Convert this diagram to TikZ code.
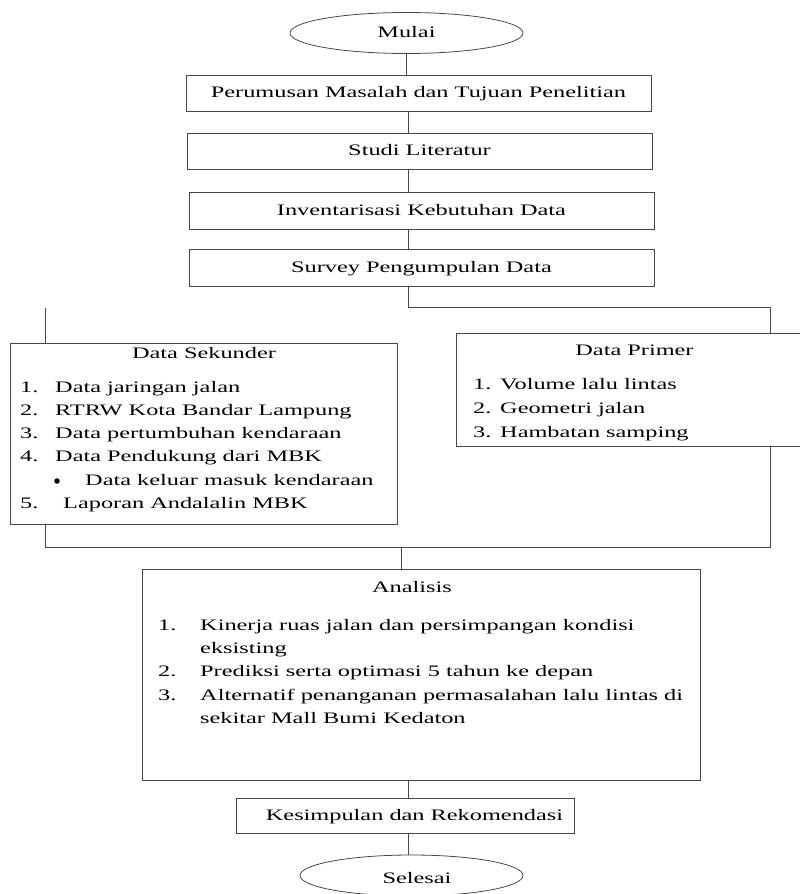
\documentclass[tikz,border=0pt]{standalone}
\usepackage{fontspec}
\setmainfont{Liberation Serif}[FakeStretch=1.52]
\usetikzlibrary{shapes.geometric}
\begin{document}
\begin{tikzpicture}[x=1pt,y=-1pt,
  line/.style={draw=black!72, line width=0.8pt},
  box/.style={line, rectangle, inner sep=0pt, anchor=center},
  lbl/.style={font=\fontsize{16}{19}\selectfont, inner sep=0pt, text height=12pt, text depth=2.6pt},
  txt/.style={font=\fontsize{16}{19}\selectfont, inner sep=0pt, anchor=base west},
  ctxt/.style={font=\fontsize{16}{19}\selectfont, inner sep=0pt, anchor=base},
  ]
\useasboundingbox (0,0) rectangle (800,894);
\clip (0,0) rectangle (800,894);

% top chain
\node[line, ellipse, inner sep=0pt, minimum width=233pt, minimum height=41pt, lbl] (mulai) at (406.5,33) {Mulai};
\node[box, minimum width=465pt, minimum height=36pt, lbl] (p1) at (418.5,93) {Perumusan Masalah dan Tujuan Penelitian};
\node[box, minimum width=465pt, minimum height=36pt, lbl] (p2) at (419.5,151) {Studi Literatur};
\node[box, minimum width=465pt, minimum height=37pt, lbl] (p3) at (421.5,210.5) {Inventarisasi Kebutuhan Data};
\node[box, minimum width=465pt, minimum height=37pt, lbl] (p4) at (421.5,267.5) {Survey Pengumpulan Data};

% data boxes
\node[box, minimum width=387pt, minimum height=181pt] (sek) at (203.5,433.5) {};
\node[box, minimum width=346pt, minimum height=113pt] (pri) at (629,389.5) {};
\node[box, minimum width=558pt, minimum height=211pt] (ana) at (421,674.5) {};
\node[box, minimum width=338pt, minimum height=35pt] (kes) at (405,815.5) {};
\node[line, ellipse, inner sep=0pt, minimum width=223pt, minimum height=41pt] (sel) at (411.5,875.5) {};

% coordinates for connectors
\coordinate (spine) at (408,0);
\coordinate (split) at (408,307);
\coordinate (rtop) at (770,307);
\coordinate (ltop) at (45,308);
\coordinate (jl) at (45,547);
\coordinate (jr) at (770,547);
\coordinate (jm) at (401,547);

% connectors
\draw[line] (mulai.south) -- (mulai.south |- p1.north);
\draw[line] (p1.south -| spine) -- (p2.north -| spine);
\draw[line] (p2.south -| spine) -- (p3.north -| spine);
\draw[line] (p3.south -| spine) -- (p4.north -| spine);
\draw[line] (p4.south -| spine) -- (split) -- (rtop) -- (pri.north -| rtop);
\draw[line] (ltop) -- (sek.north -| ltop);
\draw[line] (sek.south -| jl) -- (jl) -- (jr) -- (pri.south -| jr);
\draw[line] (jm) -- (ana.north -| jm);
\draw[line] (ana.south -| spine) -- (kes.north -| spine);
\draw[line] (kes.south -| spine) -- (sel.north -| spine);

% Data Sekunder text
\node[ctxt] (sekT) at (204,358) {Data Sekunder};
\node[txt] (s1n) at (20,392) {1.};
\node[txt] (s1) at (55,392) {Data jaringan jalan};
\node[txt] (s2n) at (20,415.3) {2.};
\node[txt] (s2) at (55,415.3) {RTRW Kota Bandar Lampung};
\node[txt] (s3n) at (20,438.6) {3.};
\node[txt] (s3) at (55,438.6) {Data pertumbuhan kendaraan};
\node[txt] (s4n) at (20,461.9) {4.};
\node[txt] (s4) at (55,461.9) {Data Pendukung dari MBK};
\node[circle, fill=black, inner sep=0pt, minimum size=5.5pt] (sbn) at (57,481) {};
\node[txt] (sb) at (85,485.2) {Data keluar masuk kendaraan};
\node[txt] (s5n) at (20,508.5) {5.};
\node[txt] (s5) at (63,508.5) {Laporan Andalalin MBK};

% Data Primer text
\node[ctxt] (priT) at (634.5,355) {Data Primer};
\node[txt] (q1n) at (473,389) {1.};
\node[txt] (q1) at (500,389) {Volume lalu lintas};
\node[txt] (q2n) at (473,413) {2.};
\node[txt] (q2) at (500,413) {Geometri jalan};
\node[txt] (q3n) at (473,437) {3.};
\node[txt] (q3) at (500,437) {Hambatan samping};

% Analisis text
\node[ctxt] (anaT) at (412,592) {Analisis};
\node[txt] (a1n) at (158,630) {1.};
\node[txt] (a1) at (200,630) {Kinerja ruas jalan dan persimpangan kondisi};
\node[txt] (a1b) at (200,653) {eksisting};
\node[txt] (a2n) at (158,676) {2.};
\node[txt] (a2) at (200,676) {Prediksi serta optimasi 5 tahun ke depan};
\node[txt] (a3n) at (158,700) {3.};
\node[txt] (a3) at (200,700) {Alternatif penanganan permasalahan lalu lintas di};
\node[txt] (a3b) at (200,723) {sekitar Mall Bumi Kedaton};

% bottom texts
\node[ctxt] (kesT) at (414.5,820.7) {Kesimpulan dan Rekomendasi};
\node[ctxt] (selT) at (417,883) {Selesai};
\end{tikzpicture}
\end{document}
